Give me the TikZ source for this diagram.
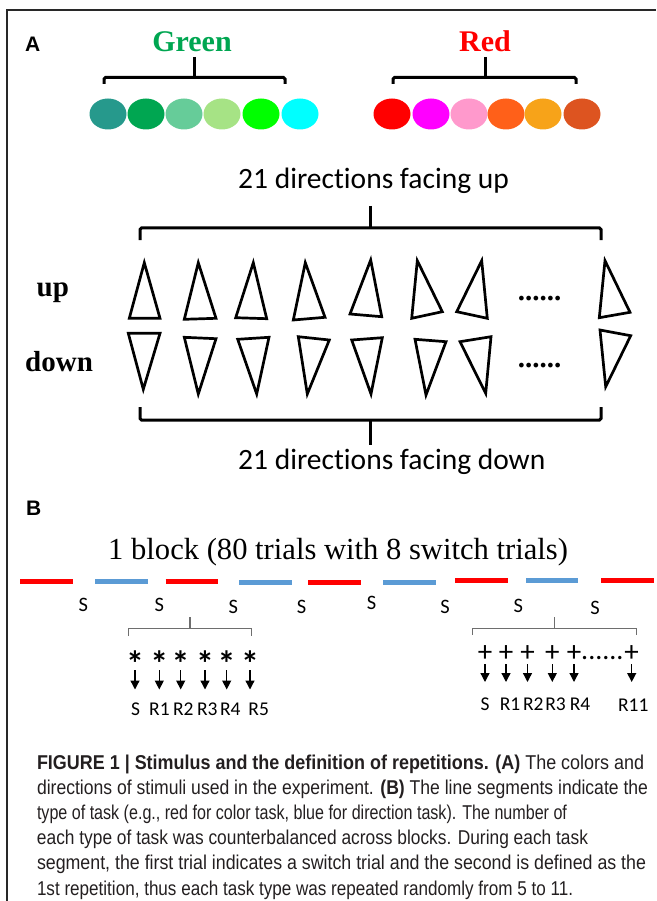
\documentclass[tikz,border=0pt]{standalone}
\usepackage{fontspec}
\usepackage{graphicx}
\setmainfont{Liberation Serif}
\newfontfamily\calfont[Ligatures=NoCommon]{Carlito}
\newfontfamily\capfont{Liberation Sans}
\usetikzlibrary{arrows.meta,shapes.geometric}

\definecolor{framegray}{RGB}{40,40,40}
\definecolor{gtext}{RGB}{0,166,81}
\definecolor{gA}{RGB}{38,153,140}
\definecolor{gB}{RGB}{0,166,81}
\definecolor{gC}{RGB}{102,204,153}
\definecolor{gD}{RGB}{166,227,133}
\definecolor{gE}{RGB}{0,255,0}
\definecolor{gF}{RGB}{0,255,255}
\definecolor{rA}{RGB}{255,0,0}
\definecolor{rB}{RGB}{255,0,255}
\definecolor{rC}{RGB}{255,153,204}
\definecolor{rD}{RGB}{255,96,25}
\definecolor{rE}{RGB}{247,163,25}
\definecolor{rF}{RGB}{221,84,32}
\definecolor{segred}{RGB}{255,0,0}
\definecolor{segblue}{RGB}{91,155,213}
\definecolor{bracegray}{RGB}{110,110,110}
\definecolor{captext}{RGB}{35,31,32}

% squeeze one caption line to a given width, keeping its height
\newcommand{\capline}[2]{\resizebox{#1}{\height}{#2}}

\begin{document}
\begin{tikzpicture}[x=1pt,y=-1pt,
  dot/.style={ellipse,minimum width=37pt,minimum height=31pt,inner sep=0pt},
  panel/.style={font=\capfont\bfseries\fontsize{21}{21}\selectfont,anchor=base west,inner sep=0pt},
  bigbrace/.style={line width=3pt,rounded corners=1.5pt},
  smallbrace/.style={line width=1.4pt,draw=bracegray},
  tri/.style={line width=2.7pt},
  seg/.style={line width=5pt},
  rowlabel/.style={font=\bfseries\fontsize{29}{29}\selectfont,anchor=base west,inner sep=0pt},
  dirtext/.style={font=\calfont\fontsize{29.5}{29.5}\selectfont,anchor=base west,inner sep=0pt},
  sw/.style={font=\calfont\fontsize{20.5}{20.5}\selectfont,inner sep=0pt},
  replab/.style={font=\calfont\fontsize{19.5}{19.5}\selectfont,anchor=base,inner sep=0pt},
  astsym/.style={font=\calfont\bfseries\fontsize{36}{36}\selectfont,anchor=base,inner sep=0pt},
  plussym/.style={font=\calfont\fontsize{29}{29}\selectfont,anchor=base,inner sep=0pt},
  dotrow/.style={font=\calfont\fontsize{28}{28}\selectfont,anchor=base west,inner sep=0pt},
  arr/.style={line width=1.3pt,-{Triangle[length=9pt,width=9pt]}},
  captxt/.style={font=\capfont\fontsize{20}{20}\selectfont,text=captext,anchor=base west,inner sep=0pt}]
\useasboundingbox (0,0) rectangle (656,901);

% frame
\draw[framegray,line width=1.2pt] (656,10) -- (7,10) -- (7,901);

% ---------- panel A ----------
\node[panel] (A) at (25,52) {A};
\node[font=\bfseries\fontsize{30}{30}\selectfont,text=gtext,anchor=base,inner sep=0pt] (green) at (192,52) {Green};
\node[font=\bfseries\fontsize{30}{30}\selectfont,text=rA,anchor=base,inner sep=0pt] (red) at (485,52) {Red};

\draw[bigbrace] (104,84) -- (104,77.5) -- (285,77.5) -- (285,84);
\draw[bigbrace] (194,57) -- (194,77.5);
\draw[bigbrace] (393,84) -- (393,77.5) -- (576,77.5) -- (576,84);
\draw[bigbrace] (485,57) -- (485,77.5);

\foreach \x/\c [count=\i] in {108/gA,146/gB,184/gC,222/gD,261/gE,300/gF}
  \node[dot,fill=\c] (g\i) at (\x,114) {};
\foreach \x/\c [count=\i] in {392/rA,431/rB,469/rC,506/rD,543/rE,582/rF}
  \node[dot,fill=\c] (r\i) at (\x,114) {};

\node[dirtext] (dirup) at (238,189) {21 directions facing up};
\draw[bigbrace] (140,240) -- (140,228) -- (601,228) -- (601,240);
\draw[bigbrace] (370,206) -- (370,228);

\node[rowlabel] (uplab) at (36.5,296.5) {up};
\node[rowlabel] (downlab) at (25,371.5) {down};

% triangles facing up
\draw[tri] (144.3,262.7) -- (129.3,318.3) -- (160,318.3) -- cycle;
\draw[tri] (198.3,262.7) -- (184.3,319.3) -- (216,318.3) -- cycle;
\draw[tri] (253.3,262.7) -- (235.7,317.7) -- (266.7,318.7) -- cycle;
\draw[tri] (305.3,262.7) -- (293.3,320) -- (325,317.3) -- cycle;
\draw[tri] (370.7,260) -- (350,314) -- (381.7,316.7) -- cycle;
\draw[tri] (417.3,260.7) -- (411.7,318.3) -- (442.3,311.7) -- cycle;
\draw[tri] (481.7,260.7) -- (456.7,311.7) -- (487.3,318.3) -- cycle;
\draw[tri] (605,260.7) -- (599.3,317.7) -- (630,312.3) -- cycle;
% triangles facing down
\draw[tri] (128.3,333.3) -- (160,333.3) -- (143.3,389.3) -- cycle;
\draw[tri] (184.3,337.3) -- (216,338.7) -- (198.3,394) -- cycle;
\draw[tri] (237.7,339.3) -- (269,337.3) -- (256.7,394) -- cycle;
\draw[tri] (298.3,336.7) -- (329.3,340) -- (307.3,394) -- cycle;
\draw[tri] (351.7,340) -- (382.3,337.7) -- (371,394) -- cycle;
\draw[tri] (415,339.3) -- (446,341.7) -- (426,395) -- cycle;
\draw[tri] (460,341.7) -- (491,336.7) -- (485.7,393.3) -- cycle;
\draw[tri] (600,330) -- (630.7,335.7) -- (605.7,386.7) -- cycle;

\node[rowlabel,anchor=base] (dotsup) at (539.5,300) {......};
\node[rowlabel,anchor=base] (dotsdown) at (539.5,367) {......};

\draw[bigbrace] (140,407) -- (140,420) -- (601,420) -- (601,407);
\draw[bigbrace] (370,420) -- (370,445);
\node[dirtext] (dirdown) at (238,469) {21 directions facing down};

% ---------- panel B ----------
\node[panel] (B) at (26,515) {B};
\node[font=\fontsize{30.6}{30.6}\selectfont,anchor=base west,inner sep=0pt] (block) at (108,559) {1 block (80 trials with 8 switch trials)};

\draw[seg,segred]  (20,581) -- (72.7,581);
\draw[seg,segblue] (95,581) -- (147.7,581);
\draw[seg,segred]  (165.7,581) -- (218.3,581);
\draw[seg,segblue] (239,582.7) -- (291.7,582.7);
\draw[seg,segred]  (308.3,582.7) -- (360.7,582.7);
\draw[seg,segblue] (383.3,582.7) -- (435.7,582.7);
\draw[seg,segred]  (455,580.7) -- (507.7,580.7);
\draw[seg,segblue] (526,580.7) -- (578.3,580.7);
\draw[seg,segred]  (601,580.7) -- (654,580.7);

\foreach \x/\y [count=\i] in {83.3/605,159.3/605,233.3/607,301.7/607,371.7/603,445/606.7,518.3/606,595/608.3}
  \node[sw] (s\i) at (\x,\y) {S};

\draw[smallbrace] (128.5,636) -- (128.5,628.5) -- (251.5,628.5) -- (251.5,636);
\draw[smallbrace] (190,617) -- (190,628.5);
\draw[smallbrace] (472.5,634.5) -- (472.5,628.5) -- (636.5,628.5) -- (636.5,634.5);
\draw[smallbrace] (554.3,617) -- (554.3,628.5);

% repetitions within a short segment
\foreach \x [count=\i] in {135,159.3,180.7,205,226.7,250}
  \node[astsym] (ast\i) at (\x,676.5) {*};
\foreach \x in {135,159.3,180.7,205,226.7,250}
  \draw[arr] (\x,670) -- (\x,689.5);
\foreach \x/\t [count=\i] in {135.7/S,159.4/R1,183.3/R2,207.3/R3,230.3/R4,258.7/R5}
  \node[replab] (la\i) at (\x,715) {\t};

% repetitions within a long segment
\foreach \x [count=\i] in {485,506,527.5,552.3,574,631.7}
  \node[plussym] (pl\i) at (\x,661.4) {+};
\node[dotrow] (pldots) at (581,659.5) {......};
\foreach \x in {485,506,527.5,552.3,574,631.7}
  \draw[arr] (\x,664.3) -- (\x,682);
\foreach \x/\t [count=\i] in {485/S,510/R1,533.3/R2,555.5/R3,580/R4}
  \node[replab] (lb\i) at (\x,710) {\t};
\node[replab] (lb6) at (633.3,711.7) {R11};

% ---------- caption ----------
\node[captxt] (c1) at (36.8,769) {\capline{607pt}{\textbf{FIGURE 1 | Stimulus and the definition of repetitions. (A)} The colors and}};
\node[captxt] (c2) at (36.8,794.2) {\capline{611pt}{directions of stimuli used in the experiment. \textbf{(B)} The line segments indicate the}};
\node[captxt] (c3) at (36.8,819.4) {\capline{530pt}{type of task (e.g., red for color task, blue for direction task). The number of}};
\node[captxt] (c4) at (36.8,844.6) {\capline{551pt}{each type of task was counterbalanced across blocks. During each task}};
\node[captxt] (c5) at (36.8,869.8) {\capline{609pt}{segment, the first trial indicates a switch trial and the second is defined as the}};
\node[captxt] (c6) at (36.8,895) {\capline{536pt}{1st repetition, thus each task type was repeated randomly from 5 to 11.}};
\end{tikzpicture}
\end{document}
